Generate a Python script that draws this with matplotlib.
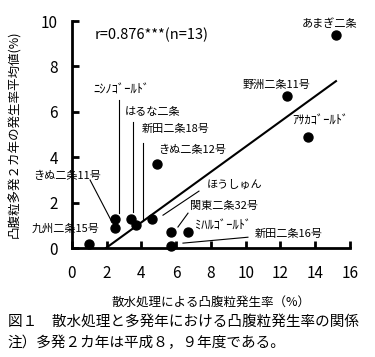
import matplotlib
matplotlib.use("Agg")
import matplotlib.pyplot as plt

plt.rcParams["font.family"] = ["Noto Sans CJK JP", "DejaVu Sans"]

# varieties: sprinkling rate (x) vs. mean rate in two outbreak years (y)
names = ["九州二条15号", "きぬ二条11号", "ﾆｼﾉｺﾞｰﾙﾄﾞ", "はるな二条", "新田二条18号",
         "ほうしゅん", "きぬ二条12号", "関東二条32号", "ﾐﾊﾙｺﾞｰﾙﾄﾞ", "新田二条16号",
         "ｱｻｶｺﾞｰﾙﾄﾞ", "野洲二条11号", "あまぎ二条"]
x_rate = [1.0, 2.5, 2.5, 3.4, 3.7, 4.6, 4.9, 5.7, 6.7, 5.7, 13.6, 12.4, 15.2]
y_rate = [0.2, 0.9, 1.3, 1.3, 1.0, 1.3, 3.7, 0.7, 0.7, 0.1, 4.9, 6.7, 9.4]

# regression line as drawn
fit_slope = 0.555
fit_x0 = 1.95
fit_x1 = 15.2

# label text positions (data units)
label_x = [-2.3, -2.24, 1.21, 3.05, 4.03, 7.77, 4.95, 6.79, 7.08, 10.53, 12.66, 9.84, 13.24]
label_y = [0.84, 3.17, 6.96, 5.99, 5.24, 2.78, 4.32, 1.85, 0.97, 0.62, 5.59, 7.18, 9.87]

# leader lines: name -> (start, end)
leaders = {
    "きぬ二条11号": ((1.04, 3.0), (2.3, 1.15)),
    "ﾆｼﾉｺﾞｰﾙﾄﾞ": ((2.71, 6.52), (2.71, 1.54)),
    "はるな二条": ((3.51, 5.55), (3.51, 1.59)),
    "新田二条18号": ((4.09, 4.63), (4.09, 1.23)),
    "ほうしゅん": ((7.31, 2.51), (5.24, 1.45)),
    "関東二条32号": ((6.68, 1.54), (6.10, 0.93)),
    "新田二条16号": ((10.13, 0.48), (6.39, 0.22)),
}

fig = plt.figure(figsize=(3.75, 3.57), dpi=100)
ax = fig.add_axes([0.192, 0.305, 0.741, 0.636])

ax.scatter(x_rate, y_rate, s=42, color="black", zorder=3, clip_on=False)
ax.plot([fit_x0, fit_x1], [0, fit_slope * (fit_x1 - fit_x0)], color="black", lw=1.5)

for name, tx, ty in zip(names, label_x, label_y):
    # half-width katakana names render narrow, so give them a bit more size
    size = 9 if name[0] in "ﾆﾐｱ" else 8
    ax.text(tx, ty, name, fontsize=size, ha="left", va="center", clip_on=False)
for name, (p0, p1) in leaders.items():
    ax.plot([p0[0], p1[0]], [p0[1], p1[1]], color="black", lw=0.8, clip_on=False)

ax.text(1.3, 9.4, "r=0.876***(n=13)", fontsize=10.5, ha="left", va="center")

ax.set_xlim(0, 16)
ax.set_ylim(0, 10)
ax.set_xticks(range(0, 17, 2))
ax.set_yticks(range(0, 11, 2))
ax.spines["top"].set_visible(False)
ax.spines["right"].set_visible(False)
ax.spines["left"].set_linewidth(2)
ax.spines["bottom"].set_linewidth(2)
ax.tick_params(direction="in", length=5, width=2, labelsize=11)
ax.tick_params(axis="x", pad=12)
ax.tick_params(axis="y", pad=10)

ax.set_xlabel("散水処理による凸腹粒発生率（%）", fontsize=9, labelpad=10)
ax.set_ylabel("凸腹粒多発２カ年の発生率平均値(%)", fontsize=9, labelpad=14)

fig.text(0.02, 0.098, "図１　散水処理と多発年における凸腹粒発生率の関係", fontsize=10.5, va="center")
fig.text(0.02, 0.04, "注）多発２カ年は平成８，９年度である。", fontsize=10.5, va="center")

fig.savefig("out.png", dpi=100)
